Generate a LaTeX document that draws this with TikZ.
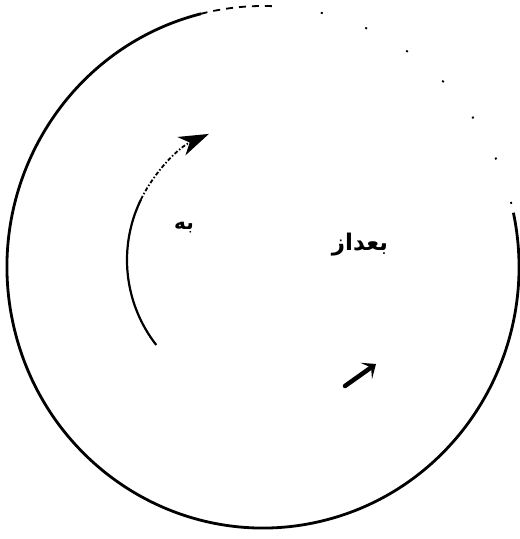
\documentclass[tikz,border=0pt]{standalone}
\usepackage{fontspec}
\usetikzlibrary{arrows.meta}
\TeXXeTstate=1
\newfontfamily\arabicfont[Script=Arabic]{DejaVu Sans}
\begin{document}
\begin{tikzpicture}[x=1pt,y=1pt,
  rim/.style={line width=2.8pt,black},
  arcline/.style={line width=2.2pt,black},
  lbl/.style={font=\arabicfont\bfseries\fontsize{#1}{#1}\selectfont,inner sep=0pt}]
\useasboundingbox (0,0) rectangle (520,539);
\fill[white] (0,0) rectangle (520,539);
\coordinate (C) at (263,272);
\coordinate (A) at (265,279);
% outer circle (broken in upper right)
\draw[rim] ([shift={(104:256pt and 261pt)}]C) arc[start angle=104,end angle=372,x radius=256pt,y radius=261pt];
\draw[line width=1.8pt,dash pattern=on 7pt off 6pt] ([shift={(88:256pt and 261pt)}]C) arc[start angle=88,end angle=104,x radius=256pt,y radius=261pt];
\draw[line width=1.8pt,dash pattern=on 2pt off 45pt] ([shift={(14:256pt and 261pt)}]C) arc[start angle=14,end angle=86,x radius=256pt,y radius=261pt];
% inner arc arrow
\draw[arcline] ([shift={(218:138pt)}]A) arc[start angle=218,end angle=154,radius=138pt];
\draw[line width=1.8pt,dash pattern=on 4pt off 2pt on 1.5pt off 2pt,-{Stealth[length=30pt,width=20pt,inset=9pt]}] ([shift={(154:138pt)}]A) arc[start angle=154,end angle=114,radius=138pt];
% small arrow
\coordinate (s1) at (345,153);
\coordinate (s2) at (376,175);
\draw[line width=4.5pt,line cap=round,-{Stealth[length=12pt,width=20pt,inset=6pt]}] (s1) -- (s2);
% labels
\node[lbl=20] (be) at (184,311) {\beginR به\endR};
\node[lbl=23] (bad) at (360,294) {\beginR بعداز\endR};
\end{tikzpicture}
\end{document}
